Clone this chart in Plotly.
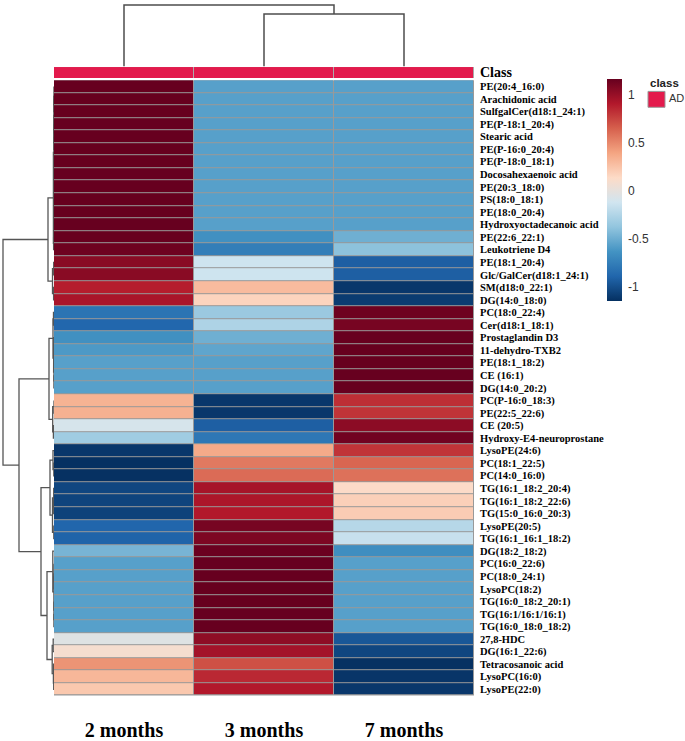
import plotly.graph_objects as go

# --------------------------------------------------
# Data
# --------------------------------------------------

months = ["2 months", "3 months", "7 months"]

lipids = [
    "PE(20:4_16:0)", "Arachidonic acid", "SulfgalCer(d18:1_24:1)", "PE(P-18:1_20:4)",
    "Stearic acid", "PE(P-16:0_20:4)", "PE(P-18:0_18:1)", "Docosahexaenoic acid",
    "PE(20:3_18:0)", "PS(18:0_18:1)", "PE(18:0_20:4)", "Hydroxyoctadecanoic acid",
    "PE(22:6_22:1)", "Leukotriene D4", "PE(18:1_20:4)", "Glc/GalCer(d18:1_24:1)",
    "SM(d18:0_22:1)", "DG(14:0_18:0)", "PC(18:0_22:4)", "Cer(d18:1_18:1)",
    "Prostaglandin D3", "11-dehydro-TXB2", "PE(18:1_18:2)", "CE (16:1)",
    "DG(14:0_20:2)", "PC(P-16:0_18:3)", "PE(22:5_22:6)", "CE (20:5)",
    "Hydroxy-E4-neuroprostane", "LysoPE(24:6)", "PC(18:1_22:5)", "PC(14:0_16:0)",
    "TG(16:1_18:2_20:4)", "TG(16:1_18:2_22:6)", "TG(15:0_16:0_20:3)", "LysoPE(20:5)",
    "TG(16:1_16:1_18:2)", "DG(18:2_18:2)", "PC(16:0_22:6)", "PC(18:0_24:1)",
    "LysoPC(18:2)", "TG(16:0_18:2_20:1)", "TG(16:1/16:1/16:1)", "TG(16:0_18:0_18:2)",
    "27,8-HDC", "DG(16:1_22:6)", "Tetracosanoic acid", "LysoPC(16:0)", "LysoPE(22:0)",
]

# row-scaled intensities (z-score), one value per month
m2 = [
    1.155, 1.155, 1.155, 1.155, 1.155, 1.155, 1.155, 1.155, 1.155, 1.155, 1.155, 1.155,
    1.15, 1.13, 1.04, 1.04, 0.88, 0.93,
    -0.82, -0.89, -0.66, -0.61, -0.577, -0.577, -0.577,
    0.32, 0.33, -0.10, -0.33,
    -1.12, -1.15, -1.15, -1.05, -1.06, -1.07, -0.90, -0.91,
    -0.47, -0.577, -0.577, -0.577, -0.577, -0.577, -0.577,
    -0.05, 0.08, 0.45, 0.30, 0.22,
]
m3 = [
    -0.577, -0.577, -0.577, -0.577, -0.577, -0.577, -0.577, -0.577, -0.577, -0.577, -0.577, -0.577,
    -0.66, -0.76, -0.14, -0.14, 0.28, 0.16,
    -0.35, -0.27, -0.50, -0.55, -0.577, -0.577, -0.577,
    -1.12, -1.12, -0.93, -0.80,
    0.36, 0.55, 0.60, 0.94, 0.92, 0.90, 1.10, 1.08,
    1.14, 1.155, 1.155, 1.155, 1.155, 1.155, 1.155,
    1.02, 0.95, 0.70, 0.84, 0.90,
]
m7 = [
    -0.577, -0.577, -0.577, -0.577, -0.577, -0.577, -0.577, -0.577, -0.577, -0.577, -0.577, -0.577,
    -0.50, -0.40, -0.93, -0.93, -1.12, -1.10,
    1.13, 1.10, 1.15, 1.155, 1.155, 1.155, 1.155,
    0.82, 0.80, 1.03, 1.12,
    0.80, 0.62, 0.58, 0.12, 0.18, 0.20, -0.24, -0.17,
    -0.67, -0.577, -0.577, -0.577, -0.577, -0.577, -0.577,
    -0.97, -1.05, -1.15, -1.13, -1.12,
]


def chain(h, leaves):
    # balanced sub-tree for (nearly) identical rows
    if len(leaves) == 1:
        return leaves[0]
    mid = len(leaves) // 2
    return (h, chain(h, leaves[:mid]), chain(h, leaves[mid:]))


# linkage trees: node = (height, left, right), leaf = index
row_tree = (51,
    (6,
        (0.6, chain(0.15, list(range(0, 12))), (0.4, 12, 13)),
        (1.5, (0.3, 14, 15), (0.4, 16, 17))),
    (35,
        (5,
            (1.0, (0.5, 18, 19), (0.4, (0.3, 20, 21), chain(0.1, [22, 23, 24]))),
            (1.3, (0.1, 25, 26), (0.6, 27, 28))),
        (13,
            (4,
                (1.0, 29, (0.2, 30, 31)),
                (1.5, chain(0.3, [32, 33, 34]), (0.2, 35, 36))),
            (7,
                (1.2, 37, chain(0.1, list(range(38, 44)))),
                (1.8, (0.8, 44, 45), (0.6, 46, (0.3, 47, 48)))))))
col_tree = (62, 0, (53, 1, 2))

# RColorBrewer RdBu (10), reversed
rdbu = ["#053061", "#2166AC", "#4393C3", "#92C5DE", "#D1E5F0",
        "#FDDBC7", "#F4A582", "#D6604D", "#B2182B", "#67001F"]
zlim = 1.155

W, H = 685, 741
SERIF = "Liberation Serif, Times New Roman, serif"
SANS = "Liberation Sans, Arial, sans-serif"


def dendro_segments(node, pos, hgt):
    """Walk a linkage tree, return (position, height) of node and fill segment lists."""
    if isinstance(node, int):
        return float(node), 0.0
    h, left, right = node
    pl, hl = dendro_segments(left, pos, hgt)
    pr, hr = dendro_segments(right, pos, hgt)
    pos += [pl, pl, pr, pr, None]
    hgt += [hl, h, h, hr, None]
    return (pl + pr) / 2, h


def px_x(p):
    return p / W


def px_y(p):
    return 1 - p / H


# --------------------------------------------------
# Figure
# --------------------------------------------------

z = [[a, b, c] for a, b, c in zip(m2, m3, m7)]
colorscale = [[i / (len(rdbu) - 1), c] for i, c in enumerate(rdbu)]

fig = go.Figure()

fig.add_trace(
    go.Heatmap(
        z=z,
        x=list(range(len(months))),
        y=list(range(len(lipids))),
        colorscale=colorscale,
        zmin=-zlim,
        zmax=zlim,
        xgap=1,
        ygap=1,
        hoverinfo="skip",
        colorbar=dict(
            x=px_x(607), xanchor="left", xpad=0,
            y=px_y(78), yanchor="top", ypad=0,
            len=222, lenmode="pixels", thickness=15,
            outlinewidth=0,
            tickvals=[-1, -0.5, 0, 0.5, 1],
            ticktext=["-1", "-0.5", "0", "0.5", "1"],
            ticks="outside", ticklen=4, tickcolor="rgba(0,0,0,0)",
            tickfont=dict(family=SANS, size=12, color="#333333"),
        ),
    )
)

# class annotation bar
fig.add_trace(
    go.Heatmap(
        z=[[1] * len(months)],
        x=list(range(len(months))),
        y=[0],
        colorscale=[[0, "#E31A4C"], [1, "#E31A4C"]],
        showscale=False,
        xgap=1,
        hoverinfo="skip",
        yaxis="y2",
    )
)

# column dendrogram
cpos, chgt = [], []
dendro_segments(col_tree, cpos, chgt)
fig.add_trace(
    go.Scatter(x=cpos, y=chgt, mode="lines", yaxis="y3",
               line=dict(color="#4d4d4d", width=1.5), hoverinfo="skip", showlegend=False)
)

# row dendrogram
rpos, rhgt = [], []
dendro_segments(row_tree, rpos, rhgt)
fig.add_trace(
    go.Scatter(x=rhgt, y=rpos, mode="lines", xaxis="x2",
               line=dict(color="#555555", width=1.3), hoverinfo="skip", showlegend=False)
)

# gray cell borders behind both heatmaps
fig.add_shape(type="rect", xref="x", yref="y", x0=-0.51, x1=2.51, y0=-0.56, y1=len(lipids) - 0.44,
              fillcolor="#999999", line_width=0, layer="below")
fig.add_shape(type="rect", xref="x", yref="y2", x0=-0.51, x1=2.51, y0=-0.6, y1=0.6,
              fillcolor="#aaaaaa", line_width=0, layer="below")

# class legend
fig.add_annotation(x=px_x(648), y=px_y(82), xref="paper", yref="paper", text="<b>class</b>",
                   showarrow=False, xanchor="left", yanchor="middle",
                   font=dict(family=SANS, size=11.5, color="#222222"))
fig.add_shape(type="rect", xref="paper", yref="paper",
              x0=px_x(648), x1=px_x(665), y0=px_y(106), y1=px_y(90),
              fillcolor="#E31A4C", line=dict(color="#999999", width=1))
fig.add_annotation(x=px_x(667), y=px_y(97), xref="paper", yref="paper", text="AD",
                   showarrow=False, xanchor="left", yanchor="middle",
                   font=dict(family=SANS, size=11, color="#333333"))

fig.update_layout(
    width=W,
    height=H,
    margin=dict(l=0, r=0, t=0, b=0),
    paper_bgcolor="white",
    plot_bgcolor="rgba(0,0,0,0)",
    showlegend=False,
    xaxis=dict(
        domain=[px_x(54), px_x(474)],
        range=[-0.5, 2.5],
        tickvals=list(range(len(months))),
        ticktext=months,
        ticks="",
        ticklabelstandoff=20,
        tickfont=dict(family=SERIF, size=20, color="black", weight="bold"),
        showgrid=False, zeroline=False, showline=False,
        anchor="y",
    ),
    yaxis=dict(
        domain=[px_y(698.3), px_y(78.7)],
        range=[len(lipids) - 0.5, -0.5],
        tickvals=list(range(len(lipids))),
        ticktext=lipids,
        side="right",
        ticks="",
        ticklabelstandoff=5,
        tickfont=dict(family=SERIF, size=10.5, color="black", weight="bold"),
        showgrid=False, zeroline=False, showline=False,
        anchor="x",
    ),
    yaxis2=dict(
        domain=[px_y(76.5), px_y(65.5)],
        range=[-0.5, 0.5],
        tickvals=[0],
        ticktext=["Class"],
        side="right",
        ticks="",
        ticklabelstandoff=5,
        tickfont=dict(family=SERIF, size=14, color="black", weight="bold"),
        showgrid=False, zeroline=False, showline=False,
        anchor="x",
    ),
    yaxis3=dict(
        domain=[px_y(65), px_y(2)],
        range=[0, 63],
        visible=False,
        anchor="x",
    ),
    xaxis2=dict(
        domain=[px_x(2), px_x(54)],
        range=[52, 0],
        visible=False,
        anchor="y",
    ),
)

# the page body has a default 8px margin; drop it so the figure sits at the window corner
fig.write_html(
    "out.html",
    config={"displayModeBar": False},
    post_script="document.body.style.margin='0';",
)
